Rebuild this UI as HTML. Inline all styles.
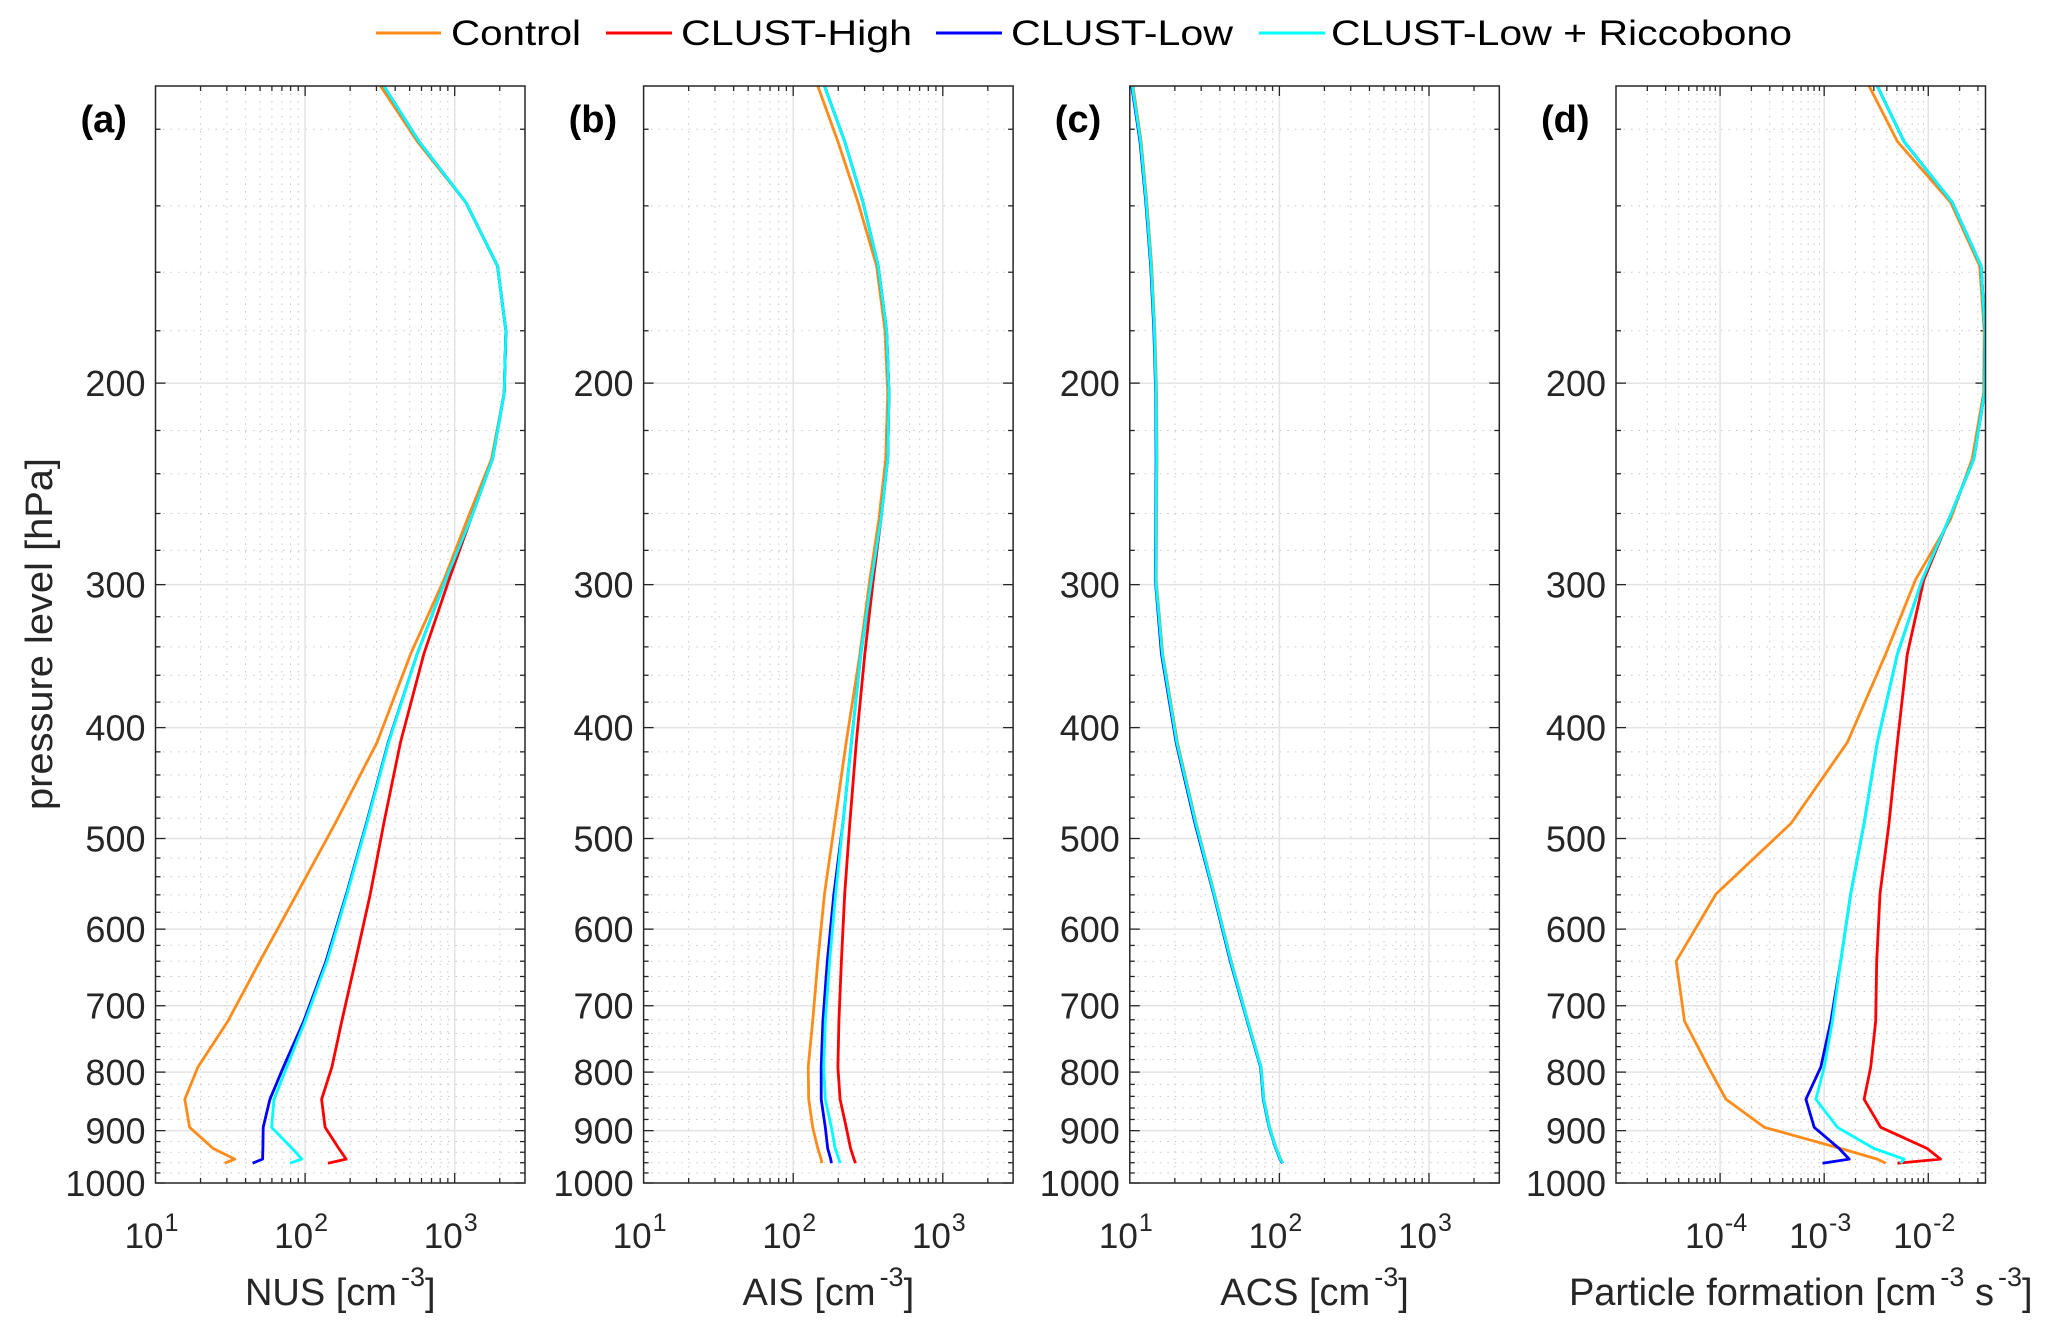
<!DOCTYPE html>
<html><head><meta charset="utf-8"><style>
html,body{margin:0;padding:0;background:#fff;}
svg{display:block;font-family:"Liberation Sans",Arial,sans-serif;}
</style></head><body>
<svg id="fig" width="2067" height="1332" viewBox="0 0 2067 1332" xmlns="http://www.w3.org/2000/svg">
<g id="legend">
 <g><line x1="376" y1="33" x2="441" y2="33" stroke="#ff8c1a" stroke-width="3"/><text x="451" y="45" font-size="35" fill="#000" textLength="130" lengthAdjust="spacingAndGlyphs">Control</text></g>
 <g><line x1="606" y1="33" x2="672" y2="33" stroke="#ff0000" stroke-width="3"/><text x="681" y="45" font-size="35" fill="#000" textLength="231" lengthAdjust="spacingAndGlyphs">CLUST-High</text></g>
 <g><line x1="936" y1="33" x2="1002" y2="33" stroke="#0000ff" stroke-width="3"/><text x="1011" y="45" font-size="35" fill="#000" textLength="222" lengthAdjust="spacingAndGlyphs">CLUST-Low</text></g>
 <g><line x1="1259" y1="33" x2="1325" y2="33" stroke="#00ffff" stroke-width="3"/><text x="1331" y="45" font-size="35" fill="#000" textLength="461" lengthAdjust="spacingAndGlyphs">CLUST-Low + Riccobono</text></g>
</g>
<text transform="translate(52,634) rotate(-90)" text-anchor="middle" font-size="38" fill="#262626" textLength="352" lengthAdjust="spacingAndGlyphs">pressure level [hPa]</text>
</svg>
<script>
// ---- data ----
const pressureLevels = [110,123,139,158,180,204,233,263,297,345,412,485,559,640,722,792,845,894,933,953,961];
const seriesNames = ["Control","CLUST-High","CLUST-Low","CLUST-Low + Riccobono"];
const nusControl = [319,562,1186,1933,2200,2143,1762,1216,848,507,303,159,88,49.9,30.5,19.2,15.7,16.9,24.3,33.9,29.0];
const nusHigh    = [336,577,1186,1933,2200,2143,1790,1279,916,622,434,336,273,217,176,151,129,136,168,188,142];
const nusLow     = [336,577,1186,1933,2200,2143,1790,1279,871,561,360,257,189,138,98,71.6,58.2,52.5,52.2,52,44.6];
const nusRicc    = [336,577,1186,1933,2200,2143,1790,1279,871,561,362,259,191,140,100,75.3,62.0,59.7,82,95,79.3];
const aisControl = [146,199,271,361,411,428,415,374,325,279,226,189,162,146,135,126,127,135,146,154,155];
const aisHigh    = [162,221,293,370,421,437,428,386,343,301,264,239,221,210,202,199,206,226,242,255,261];
const aisLow     = [162,221,293,370,421,437,428,386,334,283,245,215,187,169,158,154,154,164,170,178,180];
const aisRicc    = [162,221,293,370,421,437,428,386,334,283,245,215,192,175,164,160,164,180,191,202,206];
const acsControl = [10.5,11.9,13.0,14.0,14.7,15.1,15.2,15.1,15.0,16.6,20.8,27.8,36.8,47.6,61.5,75.5,78.7,86,95.3,102,105.6];
const acsHigh    = [10.4,11.8,12.9,13.9,14.6,15.0,15.1,15.0,14.9,16.5,20.6,27.6,36.6,47.4,61.3,75.3,78.5,85.7,95,101.6,105.3];
const acsLow     = [10.3,11.7,12.8,13.8,14.5,14.9,15.0,14.9,14.8,16.3,20.4,27.3,36.3,47.0,60.9,74.9,78.1,85.3,94.6,101,104.8];
const acsRicc    = [10.4,11.8,12.9,13.9,14.6,15.0,15.1,15.0,14.9,16.5,20.6,27.6,36.6,47.4,61.3,75.3,78.5,85.7,95,101.6,105.3];
const pfControl  = [2.70e-3,5.05e-3,1.64e-2,3.12e-2,3.45e-2,3.40e-2,2.64e-2,1.64e-2,7.56e-3,3.90e-3,1.67e-3,4.80e-4,9.16e-5,3.79e-5,4.55e-5,7.73e-5,1.14e-4,2.66e-4,1.44e-3,3.24e-3,3.90e-3];
const pfHigh     = [3.24e-3,5.85e-3,1.70e-2,3.22e-2,3.50e-2,3.46e-2,2.74e-2,1.58e-2,9.09e-3,6.29e-3,5.05e-3,4.20e-3,3.44e-3,3.20e-3,3.13e-3,2.80e-3,2.42e-3,3.49e-3,9.78e-3,1.31e-2,5.05e-3];
const pfLow      = [3.24e-3,5.85e-3,1.70e-2,3.22e-2,3.50e-2,3.46e-2,2.74e-2,1.58e-2,8.76e-3,5.05e-3,3.24e-3,2.42e-3,1.80e-3,1.44e-3,1.16e-3,9.29e-4,6.67e-4,8.02e-4,1.39e-3,1.74e-3,9.64e-4];
const pfRicc     = [3.24e-3,5.85e-3,1.70e-2,3.22e-2,3.50e-2,3.46e-2,2.74e-2,1.58e-2,8.76e-3,5.05e-3,3.24e-3,2.42e-3,1.80e-3,1.44e-3,1.20e-3,1.00e-3,8.32e-4,1.34e-3,3.01e-3,5.85e-3,5.43e-3];
const yTickLabels = ["200","300","400","500","600","700","800","900","1000"];
const yTickValues = [200,300,400,500,600,700,800,900,1000];

const NS="http://www.w3.org/2000/svg";
const svg=document.getElementById('fig');
const colors=["#ff8c1a","#ff0000","#0000ff","#00ffff"];
const panels=[
 {id:'a',left:155.5,lo:1,hi:3.47,series:[nusControl,nusHigh,nusLow,nusRicc],xt:[1,2,3],label:'NUS [cm',sup2:null},
 {id:'b',left:643.6,lo:1,hi:3.47,series:[aisControl,aisHigh,aisLow,aisRicc],xt:[1,2,3],label:'AIS [cm',sup2:null},
 {id:'c',left:1129.8,lo:1,hi:3.47,series:[acsControl,acsHigh,acsLow,acsRicc],xt:[1,2,3],label:'ACS [cm',sup2:null},
 {id:'d',left:1616,lo:-5,hi:-1.45,series:[pfControl,pfHigh,pfLow,pfRicc],xt:[-4,-3,-2],label:'Particle formation [cm',sup2:' s'}
];
const W=369.5, TOP=86, BOT=1183;
const pMin=110, pMax=1000;
function yScale(p){return TOP+(Math.log10(p)-Math.log10(pMin))/(Math.log10(pMax)-Math.log10(pMin))*(BOT-TOP);}
function mk(tag,attrs,parent){const e=document.createElementNS(NS,tag);for(const k in attrs)e.setAttribute(k,attrs[k]);(parent||svg).appendChild(e);return e;}

panels.forEach(P=>{
 const xScale=v=>P.left+(Math.log10(v)-P.lo)/(P.hi-P.lo)*W;
 const R=P.left+W;
 const g=mk('g',{});
 
 
 const clipId='clip'+P.id;
 const cp=mk('clipPath',{id:clipId},g);
 mk('rect',{x:P.left,y:TOP,width:W,height:BOT-TOP},cp);
 for(let p=120;p<1000;p+=20){ if(p%100===0)continue; const y=yScale(p);
  const l=mk('line',{x1:P.left,x2:R,y1:y,y2:y,stroke:'#c8c8c8','stroke-width':1,'stroke-dasharray':'1.5 6'},g);
  
  
  mk('line',{x1:P.left,x2:P.left+5,y1:y,y2:y,stroke:'#262626','stroke-width':1.3},g);
  mk('line',{x1:R-5,x2:R,y1:y,y2:y,stroke:'#262626','stroke-width':1.3},g);
 }
 for(let d=Math.floor(P.lo);d<=Math.ceil(P.hi);d++){
  for(let m=1;m<=9;m++){ const v=m*Math.pow(10,d); const lv=Math.log10(v); if(lv<=P.lo+1e-6||lv>=P.hi-1e-6)continue; const x=xScale(v);
   if(m===1){ const l=mk('line',{x1:x,x2:x,y1:TOP,y2:BOT,stroke:'#e3e3e3','stroke-width':1.5},g);
    
    
    mk('line',{x1:x,x2:x,y1:BOT,y2:BOT-10,stroke:'#262626','stroke-width':1.3},g);
    mk('line',{x1:x,x2:x,y1:TOP,y2:TOP+10,stroke:'#262626','stroke-width':1.3},g);
   } else { const l=mk('line',{x1:x,x2:x,y1:TOP,y2:BOT,stroke:'#c8c8c8','stroke-width':1,'stroke-dasharray':'1.5 6'},g);
    
    
    mk('line',{x1:x,x2:x,y1:BOT,y2:BOT-5,stroke:'#262626','stroke-width':1.3},g);
    mk('line',{x1:x,x2:x,y1:TOP,y2:TOP+5,stroke:'#262626','stroke-width':1.3},g);
   }
  }
 }
 yTickValues.forEach((p,i)=>{ const y=yScale(p);
  if(p<1000){ const l=mk('line',{x1:P.left,x2:R,y1:y,y2:y,stroke:'#e3e3e3','stroke-width':1.5},g);
   
   }
  mk('line',{x1:P.left,x2:P.left+10,y1:y,y2:y,stroke:'#262626','stroke-width':1.3},g);
  mk('line',{x1:R-10,x2:R,y1:y,y2:y,stroke:'#262626','stroke-width':1.3},g);
  const t=mk('text',{x:P.left-10,y:y+13,'text-anchor':'end','font-size':36,fill:'#262626'},g);
  t.textContent=yTickLabels[i];
  
  
 });
 P.xt.forEach(d=>{ const x=xScale(Math.pow(10,d));
  const t=mk('text',{x:x-4,y:1248,'text-anchor':'middle','font-size':35,fill:'#262626'},g);
  
  
  t.appendChild(document.createTextNode('10'));
  const s=mk('tspan',{dy:-17,'font-size':25,dx:1},t); s.textContent=String(d);
 });
 P.series.forEach((arr,si)=>{
  const pts=arr.map((v,i)=>xScale(v).toFixed(1)+','+yScale(pressureLevels[i]).toFixed(1)).join(' ');
  const pl=mk('polyline',{points:pts,fill:'none',stroke:colors[si],'stroke-width':2.8,'stroke-linejoin':'round','clip-path':'url(#'+clipId+')'},g);
  
  
 });
 const b=mk('rect',{x:P.left,y:TOP,width:W,height:BOT-TOP,fill:'none',stroke:'#262626','stroke-width':1.5},g);
 
 
 const pt=mk('text',{x:P.left-75,y:132,'font-size':38,'font-weight':'bold',fill:'#000'},g);
 pt.textContent='('+P.id+')';
 
 
 const xl=mk('text',{x:P.left+W/2,y:1305,'text-anchor':'middle','font-size':38,fill:'#262626'},g);
 
 
 xl.appendChild(document.createTextNode(P.label));
 let s1=mk('tspan',{dy:-19,'font-size':27,dx:4},xl); s1.textContent='-3';
 if(P.sup2){ let s2=mk('tspan',{dy:19},xl); s2.textContent=P.sup2; let s3=mk('tspan',{dy:-19,'font-size':27,dx:4},xl); s3.textContent='-3'; }
 let s4=mk('tspan',{dy:19},xl); s4.textContent=']';
});
</script>
</body></html>
